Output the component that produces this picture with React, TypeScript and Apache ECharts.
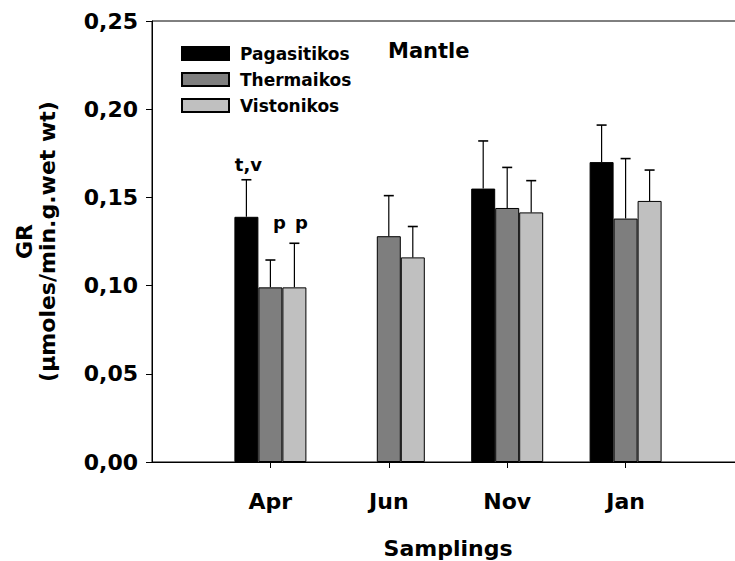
import React, { useEffect, useRef } from "react";
import * as echarts from "echarts";

const categories = ["", "Apr", "Jun", "Nov", "Jan", ""];
const seriesNames = ["Pagasitikos", "Thermaikos", "Vistonikos"];
const pagasitikos = [null, 0.139, null, 0.155, 0.170, null];
const thermaikos = [null, 0.099, 0.128, 0.144, 0.138, null];
const vistonikos = [null, 0.099, 0.116, 0.1415, 0.148, null];
const pagasitikosErr = [null, 0.021, null, 0.027, 0.021, null];
const thermaikosErr = [null, 0.0155, 0.023, 0.023, 0.034, null];
const vistonikosErr = [null, 0.025, 0.0175, 0.018, 0.0175, null];
const annotationText = ["t,v", "p", "p"];
const annotationCategory = ["Apr", "Apr", "Apr"];
const annotationSeries = [0, 1, 2];
const annotationLevel = [0.1685, 0.1355, 0.1355];
const yTicks = [0, 0.05, 0.1, 0.15, 0.2, 0.25];

const FONT = "DejaVu Sans";
const BAR_W = 24;
const colors = ["#000000", "#7e7e7e", "#c0c0c0"];
const annotationNudge = [2, 9, 7];

export default function App() {
  const ref = useRef<HTMLDivElement>(null);
  useEffect(() => {
    if (!ref.current) return;
    const chart = echarts.init(ref.current, undefined, { renderer: "svg" });
    const values = [pagasitikos, thermaikos, vistonikos];
    const errs = [pagasitikosErr, thermaikosErr, vistonikosErr];

    const barSeries = values.map((vals, i) => ({
      name: seriesNames[i],
      type: "bar",
      data: vals,
      barWidth: BAR_W,
      barGap: "0%",
      itemStyle: { color: colors[i], borderColor: "#000", borderWidth: 1 },
      z: 2,
    }));

    const errSeries = values.map((vals, i) => {
      const data: number[][] = [];
      vals.forEach((v, k) => {
        if (v != null && errs[i][k] != null) data.push([k, v, errs[i][k] as number]);
      });
      return {
        type: "custom",
        name: seriesNames[i] + " err",
        data,
        z: 3,
        silent: true,
        renderItem: (params: any, api: any) => {
          const c = api.value(0);
          const v = api.value(1);
          const e = api.value(2);
          const base = api.coord([c, v]);
          const top = api.coord([c, v + e]);
          const x = base[0] + (i - 1) * BAR_W;
          return {
            type: "group",
            children: [
              { type: "line", shape: { x1: x, y1: base[1], x2: x, y2: top[1] }, style: { stroke: "#000", lineWidth: 1.2 } },
              { type: "line", shape: { x1: x - 5, y1: top[1], x2: x + 5, y2: top[1] }, style: { stroke: "#000", lineWidth: 1.6 } },
            ],
          };
        },
      };
    });

    const annData = annotationText.map((_, j) => [categories.indexOf(annotationCategory[j]), annotationLevel[j]]);
    const annSeries = {
      type: "custom",
      name: "annotations",
      data: annData,
      z: 4,
      silent: true,
      renderItem: (params: any, api: any) => {
        const j = params.dataIndex;
        const p = api.coord([api.value(0), api.value(1)]);
        const x = p[0] + (annotationSeries[j] - 1) * BAR_W + annotationNudge[j];
        return {
          type: "text",
          x,
          y: p[1],
          style: {
            text: annotationText[j],
            fill: "#000",
            font: `bold 18px "${FONT}"`,
            align: "center",
            verticalAlign: "middle",
          },
        };
      },
    };

    chart.setOption({
      animation: false,
      backgroundColor: "#ffffff",
      textStyle: { fontFamily: FONT },
      title: {
        text: "Mantle",
        left: 388,
        top: 40,
        padding: 0,
        textStyle: { fontFamily: FONT, fontWeight: "bold", fontSize: 21, color: "#000" },
      },
      legend: {
        data: seriesNames,
        orient: "vertical",
        left: 181,
        top: 45,
        padding: 0,
        itemWidth: 47,
        itemHeight: 13,
        itemGap: 9,
        icon: "rect",
        textStyle: { fontFamily: FONT, fontWeight: "bold", fontSize: 17, color: "#000", padding: [0, 0, 0, 6] },
      },
      grid: {
        left: 152,
        right: -9,
        top: 21,
        bottom: 99,
        containLabel: false,
        outerBoundsMode: "none",
        show: true,
        borderColor: "#000",
        borderWidth: 1,
        backgroundColor: "transparent",
      },
      xAxis: {
        type: "category",
        data: categories,
        boundaryGap: false,
        name: "Samplings",
        nameLocation: "middle",
        nameGap: 75,
        nameTextStyle: { fontFamily: FONT, fontWeight: "bold", fontSize: 22, color: "#000" },
        axisLine: { lineStyle: { color: "#000", width: 1 } },
        axisTick: {
          length: 6,
          lineStyle: { color: "#000" },
          interval: (idx: number, val: string) => val !== "",
        },
        axisLabel: {
          interval: 0,
          margin: 28,
          fontFamily: FONT,
          fontWeight: "bold",
          fontSize: 22,
          color: "#000",
        },
        splitLine: { show: false },
      },
      yAxis: {
        type: "value",
        min: yTicks[0],
        max: yTicks[yTicks.length - 1],
        interval: 0.05,
        name: "GR\n(µmoles/min.g.wet wt)",
        nameLocation: "middle",
        nameRotate: 90,
        nameGap: 93,
        nameTextStyle: { fontFamily: FONT, fontWeight: "bold", fontSize: 22, color: "#000", lineHeight: 23 },
        axisLine: { show: true, lineStyle: { color: "#000", width: 1 } },
        axisTick: { show: true, length: 6, lineStyle: { color: "#000" } },
        axisLabel: {
          margin: 14,
          fontFamily: FONT,
          fontWeight: "bold",
          fontSize: 22,
          color: "#000",
          formatter: (v: number) => v.toFixed(2).replace(".", ","),
        },
        splitLine: { show: false },
      },
      series: [...barSeries, ...errSeries, annSeries],
    });
    return () => chart.dispose();
  }, []);
  return <div ref={ref} style={{ position: "fixed", left: 0, top: 0, width: 735, height: 561 }} />;
}
